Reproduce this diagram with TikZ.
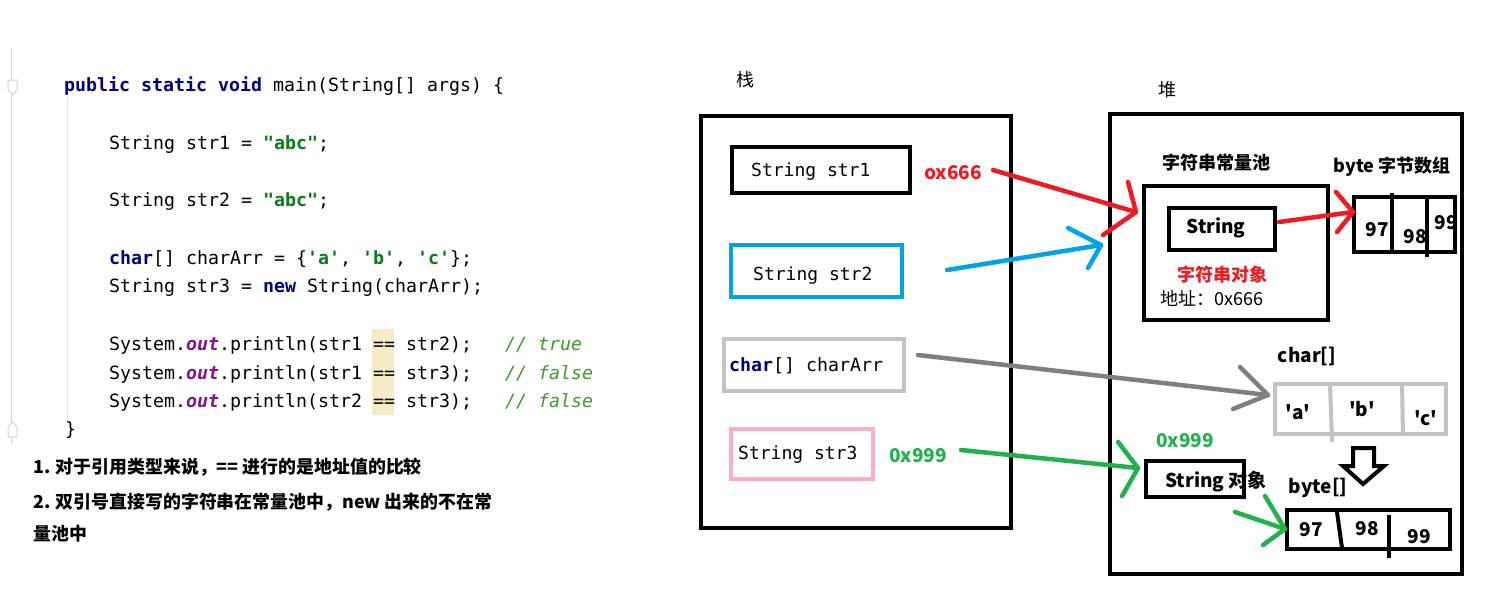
\documentclass[tikz,border=0pt]{standalone}
\usepackage{fontspec}
\setmonofont{DejaVu Sans Mono}
\newfontfamily\cjk{Noto Sans CJK SC}
\definecolor{kwnavy}{HTML}{000080}
\definecolor{strgreen}{HTML}{067D17}
\definecolor{outpurple}{HTML}{871094}
\definecolor{cmtgreen}{HTML}{3F9A2A}
\definecolor{hlbeige}{HTML}{F5EBC4}
\definecolor{gutter}{HTML}{D4D4D4}
\definecolor{pred}{HTML}{ED1C24}
\definecolor{pblue}{HTML}{00A2E8}
\definecolor{pgray}{HTML}{7F7F7F}
\definecolor{plgray}{HTML}{C3C3C3}
\definecolor{ppink}{HTML}{FFAEC9}
\definecolor{pgreen}{HTML}{22B14C}
\newcommand\kw[1]{\textbf{\color{kwnavy}#1}}
\newcommand\jstr[1]{\textbf{\color{strgreen}#1}}
\newcommand\jout[1]{\textbf{\itshape\color{outpurple}#1}}
\newcommand\jcmt[1]{{\itshape\color{cmtgreen}#1}}
\begin{document}
\begin{tikzpicture}[x=1pt,y=-1pt,
  code/.style={anchor=base west, inner sep=0pt, font=\fontsize{18.27}{20}\selectfont\ttfamily},
  note/.style={anchor=base west, inner sep=0pt, font=\fontsize{17.9}{22}\selectfont\cjk\bfseries},
  lbl/.style={inner sep=0pt, font=\fontsize{19}{22}\selectfont\cjk\bfseries},
  cjklbl/.style={inner sep=0pt, font=\fontsize{18}{22}\selectfont\cjk\bfseries},
  plain/.style={inner sep=0pt, font=\fontsize{18}{22}\selectfont\cjk},
  box/.style={draw, line width=4pt, inner sep=0pt},
  arr/.style={line width=4.5pt, line cap=round, line join=round},
  div/.style={line width=4pt}]
\useasboundingbox (0,0) rectangle (1501,614);
\fill[white] (0,0) rectangle (1501,614);

% ---------- code panel ----------
\draw[gutter, line width=1pt] (11,48) -- (11,443);
\draw[gutter, line width=1pt, fill=white] (8,80) -- (17,80) -- (17,90) -- (12.5,95) -- (8,90) -- cycle;
\draw[gutter, line width=1pt, fill=white] (8,437) -- (17,437) -- (17,427) -- (12.5,422) -- (8,427) -- cycle;
\draw[black!12, line width=1pt] (67,98) -- (67,422);
\fill[hlbeige] (372,329) rectangle (394,415);

\node[code] (l1) at (64,91) {\kw{public} \kw{static} \kw{void} main(String[] args) \{};
\node[code] (l2) at (109,149) {String str1 = \jstr{"abc"};};
\node[code] (l3) at (109,206) {String str2 = \jstr{"abc"};};
\node[code] (l4) at (109,264) {\kw{char}[] charArr = \{\jstr{'a'}, \jstr{'b'}, \jstr{'c'}\};};
\node[code] (l5) at (109,292) {String str3 = \kw{new} String(charArr);};
\node[code] (l6) at (109,350) {System.\jout{out}.println(str1 == str2);};
\node[code] (l7) at (109,379) {System.\jout{out}.println(str1 == str3);};
\node[code] (l8) at (109,407) {System.\jout{out}.println(str2 == str3);};
\node[code] (c6) at (505,350) {\jcmt{// true}};
\node[code] (c7) at (505,379) {\jcmt{// false}};
\node[code] (c8) at (505,407) {\jcmt{// false}};
\node[code] (l9) at (65,435) {\}};

\node[note] (n1) at (33,473) {1. 对于引用类型来说，== 进行的是地址值的比较};
\node[note] (n2) at (33,508) {2. 双引号直接写的字符串在常量池中，new 出来的不在常};
\node[note] (n3) at (33,540) {量池中};

% ---------- stack ----------
\node[plain] (stacklbl) at (745,80) {栈};
\node[box, minimum width=310pt, minimum height=412pt] (stack) at (855.5,321.5) {};
\node[box, minimum width=178pt, minimum height=46pt] (s1) at (821,170) {};
\node[box, draw=pblue, minimum width=171pt, minimum height=52pt] (s2) at (816.5,271) {};
\node[box, draw=plgray, minimum width=180pt, minimum height=52pt] (ca) at (814,365) {};
\node[box, draw=ppink, minimum width=142pt, minimum height=50pt] (s3) at (802,454) {};
\node[code, font=\fontsize{18}{20}\selectfont\ttfamily] (s1t) at (751,176) {String str1};
\node[code, font=\fontsize{18}{20}\selectfont\ttfamily] (s2t) at (753,280) {String str2};
\node[code] (cat) at (729,371) {\kw{char}[] charArr};
\node[code, font=\fontsize{18}{20}\selectfont\ttfamily] (s3t) at (738,459) {String str3};
\node[lbl, text=pred] (ox) at (953,173) {ox666};
\node[lbl, text=pgreen] (x999a) at (918,456) {0x999};

% ---------- heap ----------
\node[plain] (heaplbl) at (1167,90) {堆};
\node[box, minimum width=352pt, minimum height=460pt] (heap) at (1286,344) {};
\node[cjklbl] (poollbl) at (1216,163) {字符串常量池};
\node[box, minimum width=184pt, minimum height=134pt] (pool) at (1236,253) {};
\node[box, minimum width=106pt, minimum height=42pt] (strobj) at (1222,229) {};
\node[lbl] (strt) at (1216,228) {String};
\node[cjklbl, text=pred] (objlbl) at (1222,275) {字符串对象};
\node[plain, anchor=west] (addr) at (1160,298) {地址：0x666};

\node[cjklbl] (bytelbl) at (1392,167) {byte 字节数组};
\node[lbl] (b97) at (1377,230) {97};
\node[lbl] (b98) at (1415,237) {98};
\node[lbl] (b99) at (1446,223) {99};
\node[box, minimum width=101pt, minimum height=55pt] (bytes1) at (1404.5,224.5) {};
\draw[div] (1392,193) -- (1392,252);
\draw[div] (1427,195) -- (1427,257);

\node[lbl] (charlbl) at (1307,356) {char[]};
\node[box, draw=plgray, minimum width=171pt, minimum height=50pt] (chars) at (1360.5,409) {};
\draw[div, plgray] (1330,384) -- (1332,442);
\draw[div, plgray] (1402,384) -- (1403,436);
\node[lbl] (ca1) at (1298,412) {'a'};
\node[lbl] (ca2) at (1362,409) {'b'};
\node[lbl] (ca3) at (1426,418) {'c'};

\draw[line width=4pt, line join=miter] (1353,448) -- (1374,448) -- (1374,466) -- (1384,466) -- (1363,484) -- (1343,466) -- (1353,466) -- cycle;

\node[lbl, text=pgreen] (x999b) at (1185,441) {0x999};
\node[box, minimum width=98pt, minimum height=36pt] (newstr) at (1195,479) {};
\node[lbl, anchor=west] (newstrt) at (1165,482) {String 对象};

\node[lbl] (byte2lbl) at (1318,488) {byte[]};
\node[box, minimum width=163pt, minimum height=39pt] (bytes2) at (1368.5,529.5) {};
\draw[div] (1337,512) -- (1342,548);
\draw[div] (1389,515) -- (1389,558);
\node[lbl] (c97) at (1311,530) {97};
\node[lbl] (c98) at (1367,529) {98};
\node[lbl] (c99) at (1419,537) {99};

% ---------- arrows ----------
\coordinate (r1s) at (993,170);  \coordinate (r1t) at (1136,212);
\coordinate (r1a) at (1128,182); \coordinate (r1b) at (1103,235);
\draw[arr, pred] (r1s) -- (r1t);
\draw[arr, pred] (r1a) -- (r1t) -- (r1b);

\coordinate (r2s) at (1279,222); \coordinate (r2t) at (1353,212);
\coordinate (r2a) at (1336,192); \coordinate (r2b) at (1337,232);
\draw[arr, pred] (r2s) -- (r2t);
\draw[arr, pred] (r2a) -- (r2t) -- (r2b);

\coordinate (bs) at (947,270);   \coordinate (bt) at (1101,245);
\coordinate (ba) at (1068,228);  \coordinate (bb) at (1088,268);
\draw[arr, pblue] (bs) -- (bt);
\draw[arr, pblue] (ba) -- (bt) -- (bb);

\coordinate (gs) at (918,355);   \coordinate (gt) at (1268,395);
\coordinate (ga) at (1240,367);  \coordinate (gb) at (1233,409);
\draw[arr, pgray] (gs) -- (gt);
\draw[arr, pgray] (ga) -- (gt) -- (gb);

\coordinate (e1s) at (961,450);  \coordinate (e1t) at (1138,468);
\coordinate (e1a) at (1118,442); \coordinate (e1b) at (1122,496);
\draw[arr, pgreen] (e1s) -- (e1t);
\draw[arr, pgreen] (e1a) -- (e1t) -- (e1b);

\coordinate (e2s) at (1235,512); \coordinate (e2t) at (1285,529);
\coordinate (e2a) at (1265,496); \coordinate (e2b) at (1263,545);
\draw[arr, pgreen] (e2s) -- (e2t);
\draw[arr, pgreen] (e2a) -- (e2t) -- (e2b);
\end{tikzpicture}
\end{document}
